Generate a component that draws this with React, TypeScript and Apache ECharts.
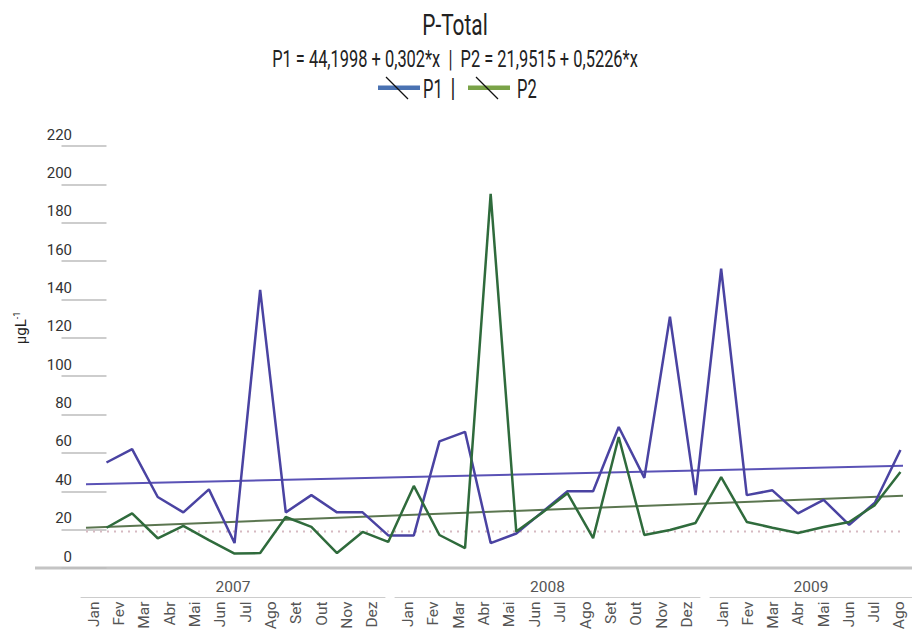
import React, { useEffect, useRef } from "react";
import * as echarts from "echarts";

// ---- data ----
const years = ["2007", "2008", "2009"];
const months2007 = ["Jan", "Fev", "Mar", "Abr", "Mai", "Jun", "Jul", "Ago", "Set", "Out", "Nov", "Dez"];
const months2008 = ["Jan", "Fev", "Mar", "Abr", "Mai", "Jun", "Jul", "Ago", "Set", "Out", "Nov", "Dez"];
const months2009 = ["Jan", "Fev", "Mar", "Abr", "Mai", "Jun", "Jul", "Ago"];

const p1Values = [
  55, 62, 37, 29, 41, 13, 145, 29, 38, 29, 29, 17,
  17, 66, 71, 13, 18, 29, 40, 40, 73.5, 47, 131, 38,
  156, 38, 40.5, 28.5, 35.5, 22.5, 34, 61.5,
];
const p2Values = [
  21, 28.5, 15.5, 22, 14.5, 7.5, 7.8, 26.6, 21.4, 7.8, 18.8, 13.6,
  42.8, 17.2, 10.4, 195, 19, 28.7, 39, 15.6, 68.3, 17.2, 19.8, 23.5,
  47.4, 24, 21, 18.2, 21.4, 24, 32.8, 50,
];
const p1Trend = { a: 44.1998, b: 0.302 };
const p2Trend = { a: 21.9515, b: 0.5226 };
const trendShift = -1;
const refLevel = 19;
const yTicks = { min: 0, max: 220, interval: 20 };

const FONT = "Roboto, 'DejaVu Sans Condensed', sans-serif";

export default function App() {
  const ref = useRef<HTMLDivElement>(null);
  useEffect(() => {
    if (!ref.current) return;
    const chart = echarts.init(ref.current, null, { renderer: "svg" });
    const xMin = -0.8;
    const xMax = 31.1;
    const trendLine = (t: { a: number; b: number }) => [
      [xMin, t.a + t.b * (xMin + trendShift)],
      [xMax, t.a + t.b * (xMax + trendShift)],
    ];
    const monthGroups = [months2007, months2008, months2009];
    const groupGrids = [
      { left: 81, width: 304 },
      { left: 395, width: 305 },
      { left: 710, width: 202 },
    ];
    const grids: any[] = [{ left: 86, right: 9, top: 146, bottom: 63 }];
    groupGrids.forEach((g) => grids.push({ left: g.left, width: g.width, top: 597, height: 2 }));

    const xAxes: any[] = [{ type: "value", gridIndex: 0, min: xMin, max: xMax, show: false }];
    const yAxes: any[] = [
      {
        type: "value",
        gridIndex: 0,
        min: yTicks.min,
        max: yTicks.max,
        interval: yTicks.interval,
        offset: 6,
        axisLine: { show: false },
        axisTick: { show: true, length: 45, lineStyle: { color: "#bdbdbd", width: 1.5 } },
        splitLine: { show: false },
        axisLabel: {
          margin: 8,
          fontSize: 15,
          color: "#333",
          fontFamily: FONT,
          verticalAlign: "bottom",
          padding: [0, 0, 4, 0],
        },
      },
    ];
    monthGroups.forEach((m, k) => {
      xAxes.push({
        type: "category",
        gridIndex: k + 1,
        data: m,
        position: "bottom",
        axisLine: { lineStyle: { color: "#cccccc", width: 1 } },
        axisTick: { show: false },
        axisLabel: { rotate: 90, margin: 4, fontSize: 15.5, color: "#555", fontFamily: FONT, interval: 0 },
      });
      xAxes.push({
        type: "category",
        gridIndex: k + 1,
        data: [years[k]],
        position: "top",
        axisLine: { show: false },
        axisTick: { show: false },
        axisLabel: { margin: 2, fontSize: 15.5, color: "#555", fontFamily: FONT },
      });
      yAxes.push({ type: "value", gridIndex: k + 1, show: false });
    });

    const headText = (text: string, x: number, y: number, size: number, sx: number, align = "center") => ({
      type: "text",
      x,
      y,
      scaleX: sx,
      style: { text, fontSize: size, fontFamily: FONT, fill: "#222", textAlign: align, textVerticalAlign: "middle" },
    });

    const option: any = {
      animation: false,
      backgroundColor: "#ffffff",
      grid: grids,
      xAxis: xAxes,
      yAxis: yAxes,
      graphic: [
        headText("P-Total", 455, 25, 29, 0.72),
        headText("P1 = 44,1998 + 0,302*x  |  P2 = 21,9515 + 0,5226*x", 455, 59, 24.5, 0.67),
        { type: "rect", shape: { x: 378, y: 85.5, width: 42, height: 4.5 }, style: { fill: "#4a72b2" } },
        { type: "line", shape: { x1: 386, y1: 77, x2: 408, y2: 99 }, style: { stroke: "#111", lineWidth: 1.3 } },
        headText("P1", 423, 89, 25, 0.66, "left"),
        headText("|", 453, 89, 25, 0.8),
        { type: "rect", shape: { x: 468, y: 85.5, width: 42, height: 4.5 }, style: { fill: "#7aa348" } },
        { type: "line", shape: { x1: 476, y1: 77, x2: 498, y2: 99 }, style: { stroke: "#111", lineWidth: 1.3 } },
        headText("P2", 517, 89, 25, 0.66, "left"),
        {
          type: "text",
          x: 21,
          y: 328,
          rotation: Math.PI / 2,
          style: {
            text: "µgL{s|-1}",
            fontSize: 15,
            fontFamily: FONT,
            fill: "#222",
            textAlign: "center",
            textVerticalAlign: "middle",
            rich: { s: { fontSize: 9, fontFamily: FONT, fill: "#222", padding: [0, 0, 9, 0] } },
          },
        },
        { type: "line", shape: { x1: 35, y1: 568, x2: 912, y2: 568 }, style: { stroke: "#c4c4c4", lineWidth: 3 } },
      ],
      series: [
        {
          name: "ref",
          type: "line",
          xAxisIndex: 0,
          yAxisIndex: 0,
          data: [[xMin, refLevel], [xMax, refLevel]],
          symbol: "none",
          lineStyle: { color: "#d6b9c1", width: 2, type: [2, 5] },
        },
        {
          name: "P1 trend",
          type: "line",
          xAxisIndex: 0,
          yAxisIndex: 0,
          data: trendLine(p1Trend),
          symbol: "none",
          lineStyle: { color: "#5a52b6", width: 2 },
        },
        {
          name: "P2 trend",
          type: "line",
          xAxisIndex: 0,
          yAxisIndex: 0,
          data: trendLine(p2Trend),
          symbol: "none",
          lineStyle: { color: "#5b7650", width: 2 },
        },
        {
          name: "P1",
          type: "line",
          xAxisIndex: 0,
          yAxisIndex: 0,
          data: p1Values.map((v, i) => [i, v]),
          symbol: "none",
          lineStyle: { color: "#4a43a2", width: 2.5 },
        },
        {
          name: "P2",
          type: "line",
          xAxisIndex: 0,
          yAxisIndex: 0,
          data: p2Values.map((v, i) => [i, v]),
          symbol: "none",
          lineStyle: { color: "#2f6b3c", width: 2.5 },
        },
      ],
    };
    chart.setOption(option);
    return () => chart.dispose();
  }, []);
  return <div ref={ref} style={{ position: "fixed", left: 0, top: 0, width: 912, height: 631 }} />;
}
